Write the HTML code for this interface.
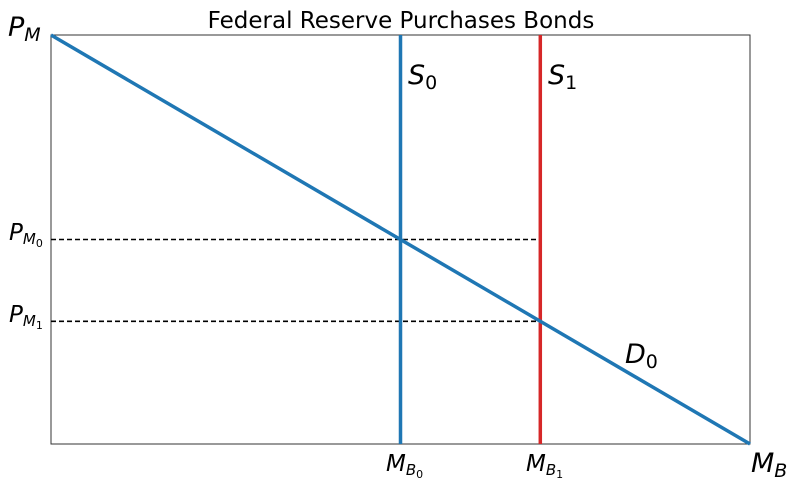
<!DOCTYPE html>
<html><head><meta charset="utf-8">
<style>
body{margin:0;background:#fff;}
svg text{font-family:"DejaVu Sans","Liberation Sans",sans-serif;}
.it{font-style:italic;}
</style></head>
<body>
<svg id="chart" width="800" height="488" viewBox="0 0 800 488" xmlns="http://www.w3.org/2000/svg">
<text x="401" y="28" font-size="23" text-anchor="middle" fill="#000">Federal Reserve Purchases Bonds</text>
<rect x="51" y="35" width="699" height="409" fill="none" stroke="#333" stroke-width="1"/>
<g id="marks"></g>
<text class="it" x="8" y="36" font-size="27">P<tspan font-size="19" dy="5">M</tspan></text>
<text class="it" x="751" y="472" font-size="27">M<tspan font-size="19" dy="5">B</tspan></text>
<text class="it" x="408" y="84" font-size="27">S<tspan font-size="19" dy="5" font-style="normal">0</tspan></text>
<text class="it" x="548" y="84" font-size="27">S<tspan font-size="19" dy="5" font-style="normal">1</tspan></text>
<text class="it" x="625" y="363" font-size="27">D<tspan font-size="19" dy="5" font-style="normal">0</tspan></text>
<text class="it" x="9" y="240" font-size="23">P<tspan font-size="15" dy="4">M</tspan><tspan font-size="11" dy="3" font-style="normal">0</tspan></text>
<text class="it" x="9" y="322" font-size="23">P<tspan font-size="15" dy="4">M</tspan><tspan font-size="11" dy="3" font-style="normal">1</tspan></text>
<text class="it" x="386" y="471" font-size="23">M<tspan font-size="15" dy="4">B</tspan><tspan font-size="11" dy="3" font-style="normal">0</tspan></text>
<text class="it" x="526" y="471" font-size="23">M<tspan font-size="15" dy="4">B</tspan><tspan font-size="11" dy="3" font-style="normal">1</tspan></text>
</svg>
<script>
const demandX=[0,10];
const demandY=[10,0];
const supplyQ=[5,7];
const equilP=[5,3];
const xScale=v=>51+v/10*699;
const yScale=v=>444-v/10*409;
const g=document.getElementById('marks');
const NS='http://www.w3.org/2000/svg';
function line(x1,y1,x2,y2,color,w,dash){
  const l=document.createElementNS(NS,'line');
  l.setAttribute('x1',x1);l.setAttribute('y1',y1);l.setAttribute('x2',x2);l.setAttribute('y2',y2);
  l.setAttribute('stroke',color);l.setAttribute('stroke-width',w);
  if(dash)l.setAttribute('stroke-dasharray',dash);
  g.appendChild(l);return l;
}
const maxQ=Math.max(...supplyQ);
equilP.forEach((p,i)=>{
  const d=line(xScale(0),yScale(p),xScale(maxQ),yScale(p),'#000',1.6,'5,3');
  
  
});
const colors=['#1f77b4','#d62728'];
supplyQ.forEach((q,i)=>{
  const s=line(xScale(q),yScale(0),xScale(q),yScale(10),colors[i],3.5);
  
  
});
const dl=line(xScale(demandX[0]),yScale(demandY[0]),xScale(demandX[1]),yScale(demandY[1]),'#1f77b4',3.5);


</script>
</body></html>
